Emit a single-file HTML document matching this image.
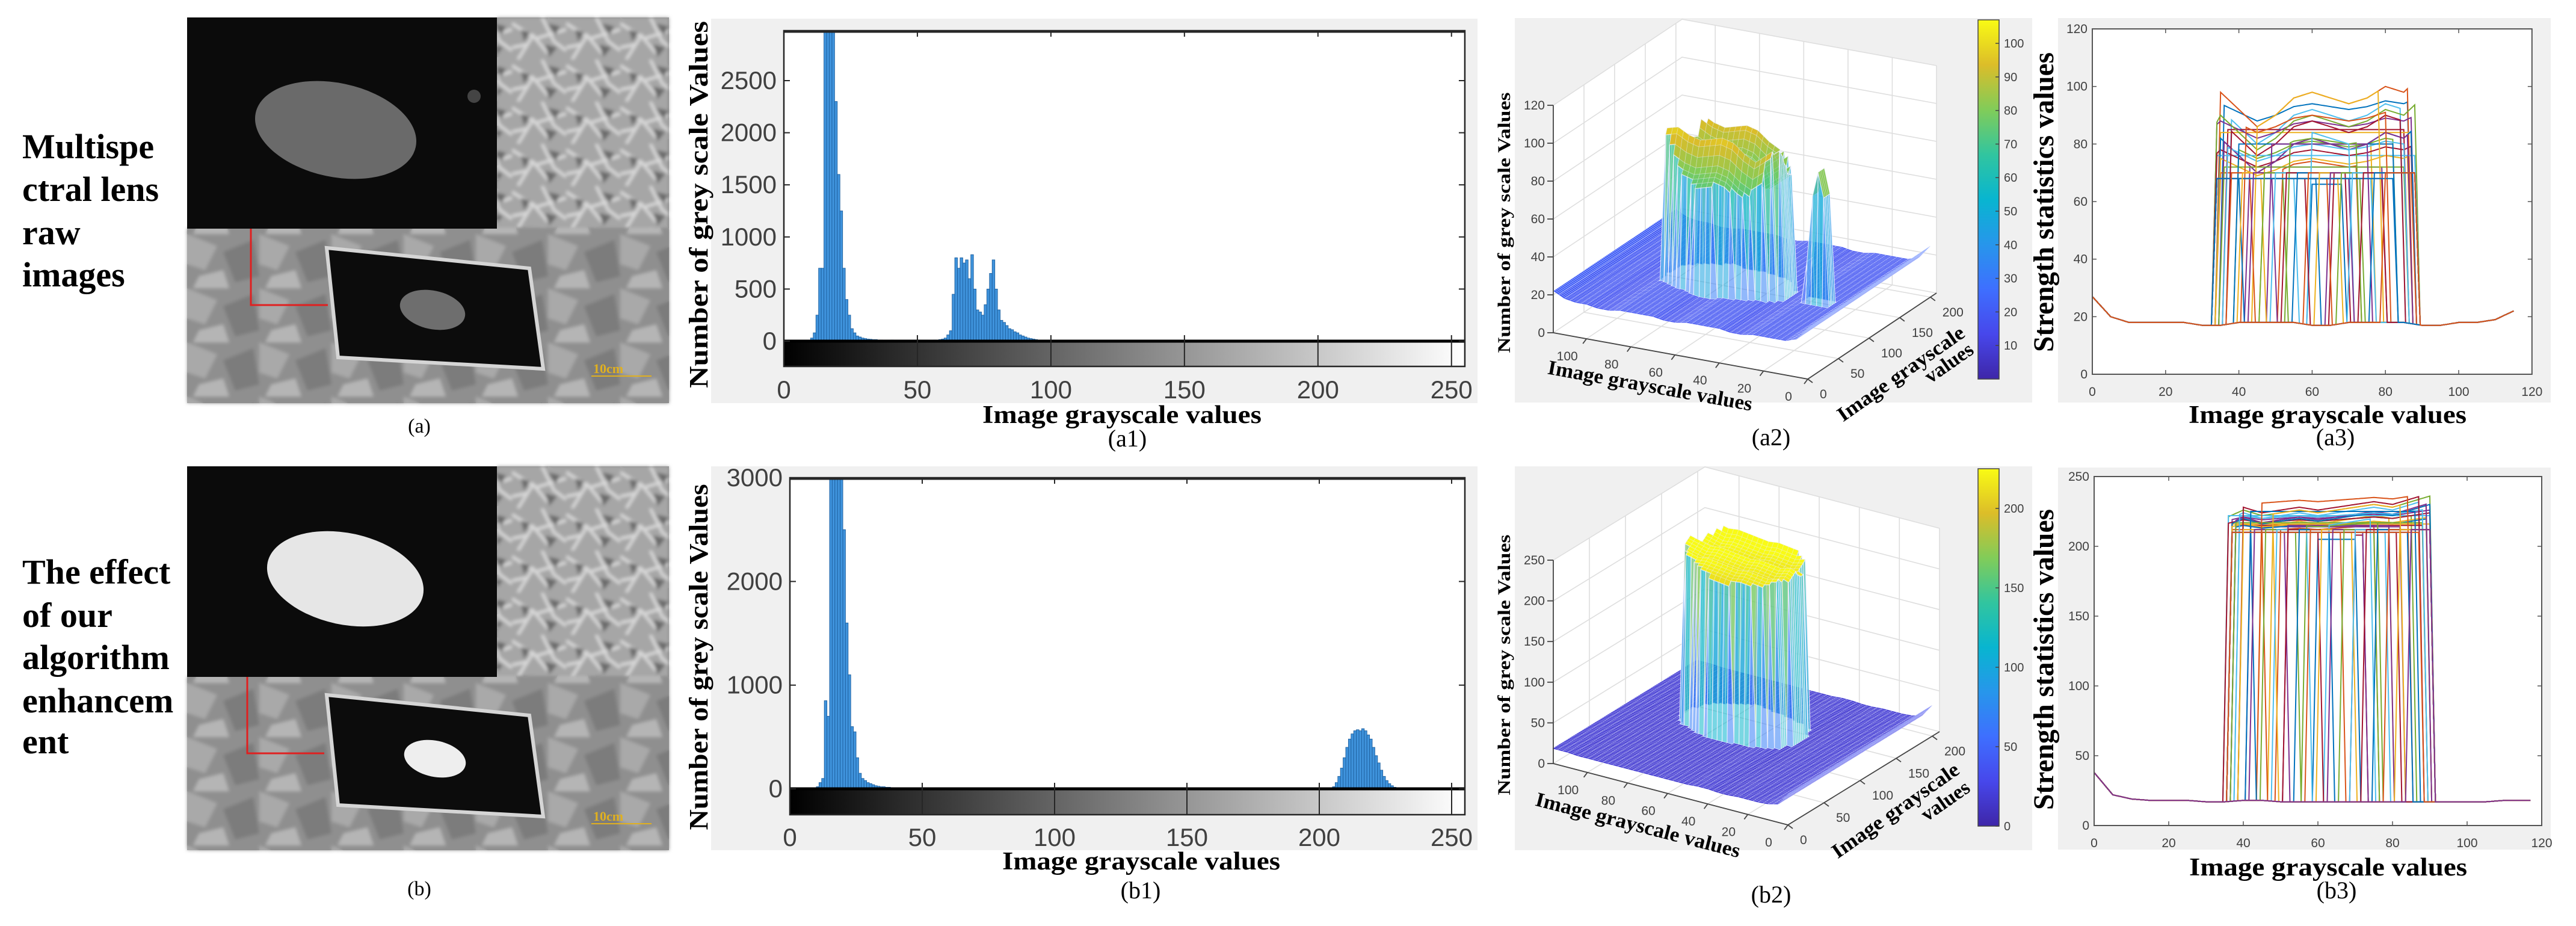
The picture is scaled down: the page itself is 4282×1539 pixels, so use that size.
<!DOCTYPE html>
<html><head><meta charset="utf-8"><title>Figure</title>
<style>
html,body{margin:0;padding:0;background:#fff;}
svg{display:block;}
.ser{font-family:"Liberation Serif",serif;}
.san{font-family:"Liberation Sans",sans-serif;}
</style></head>
<body>
<svg id="fig" xmlns="http://www.w3.org/2000/svg" width="4282" height="1539" viewBox="0 0 4282 1539">
<defs>
<linearGradient id="gray" x1="0" x2="1" y1="0" y2="0"><stop offset="0" stop-color="#000"/><stop offset="1" stop-color="#fff"/></linearGradient>
<linearGradient id="parula" x1="0" x2="0" y1="1" y2="0">
<stop offset="0" stop-color="#3e26a8"/><stop offset="0.125" stop-color="#4747eb"/><stop offset="0.25" stop-color="#3e6fff"/><stop offset="0.375" stop-color="#2796eb"/><stop offset="0.5" stop-color="#08b5d0"/><stop offset="0.625" stop-color="#31c59f"/><stop offset="0.75" stop-color="#81cc59"/><stop offset="0.875" stop-color="#dcbd29"/><stop offset="1" stop-color="#f9fb14"/>
</linearGradient>
<filter id="blur6"><feGaussianBlur stdDeviation="6"/></filter>
<filter id="blur3"><feGaussianBlur stdDeviation="3"/></filter>
<pattern id="twigs" width="90" height="70" patternUnits="userSpaceOnUse">
<rect width="90" height="70" fill="#a6a6a6"/>
<path d="M0 10 L40 35 L90 20 M10 70 L35 30 L60 60 M50 0 L70 40 L90 55 M0 50 L25 45" stroke="#d8d8d8" stroke-width="5" fill="none"/>
<path d="M15 20 L30 25 L20 40 Z M60 10 L80 15 L72 30 Z M55 45 L75 50 L62 66 Z" fill="#6a6a6a"/>
</pattern>
<pattern id="rock" width="120" height="90" patternUnits="userSpaceOnUse">
<rect width="120" height="90" fill="#8f8f8f"/>
<path d="M0 0 L50 20 L30 60 L0 50 Z" fill="#a9a9a9"/>
<path d="M60 30 L110 10 L120 70 L80 80 Z" fill="#7b7b7b"/>
<path d="M20 70 L60 60 L70 90 L10 90 Z" fill="#b5b5b5"/>
</pattern>
</defs>

<!-- Row labels -->
<g class="ser" font-weight="bold" font-size="58" fill="#000">
<text x="37" y="263">Multispe</text><text x="37" y="334">ctral lens</text><text x="37" y="406">raw</text><text x="37" y="476">images</text>
</g>
<g class="ser" font-weight="bold" font-size="58" fill="#000">
<text x="37" y="970">The effect</text><text x="37" y="1042">of our</text><text x="37" y="1112">algorithm</text><text x="37" y="1184">enhancem</text><text x="37" y="1252">ent</text>
</g>

<!-- Photo a -->
<g transform="translate(311,29)">
<rect width="801" height="641" fill="url(#rock)"/>
<rect x="515" y="0" width="286" height="351" fill="url(#twigs)" filter="url(#blur3)"/>
<rect x="0" y="351" width="801" height="290" fill="url(#rock)" filter="url(#blur3)"/>
<polygon points="232,383 569,417 592,584 251,565" fill="#0c0c0c" stroke="#d5d5d5" stroke-width="6"/>
<ellipse cx="408" cy="486" rx="55" ry="32" fill="#6e6e6e" transform="rotate(12 408 486)"/>
<rect x="0" y="0" width="515" height="351" fill="#0b0b0b"/>
<ellipse cx="247" cy="187" rx="136" ry="78" fill="#6a6a6a" transform="rotate(12 247 187)"/>
<circle cx="477" cy="131" r="11" fill="#444"/>
<path d="M106 351 L106 478 L234 478" fill="none" stroke="#e02020" stroke-width="3"/>
<text x="675" y="591" class="ser" font-weight="bold" font-size="22" fill="#e0b020">10cm</text>
<line x1="672" y1="596" x2="772" y2="596" stroke="#e0b020" stroke-width="2"/>
</g>
<text x="697" y="719" class="ser" font-size="34" text-anchor="middle">(a)</text>

<!-- Photo b -->
<g transform="translate(311,775)">
<rect width="801" height="638" fill="url(#rock)"/>
<rect x="515" y="0" width="286" height="350" fill="url(#twigs)" filter="url(#blur3)"/>
<rect x="0" y="350" width="801" height="288" fill="url(#rock)" filter="url(#blur3)"/>
<polygon points="232,380 569,414 592,582 251,563" fill="#0c0c0c" stroke="#d5d5d5" stroke-width="6"/>
<ellipse cx="412" cy="486" rx="52" ry="30" fill="#eeeeee" transform="rotate(12 412 486)"/>
<rect x="0" y="0" width="515" height="350" fill="#0b0b0b"/>
<ellipse cx="263" cy="187" rx="132" ry="76" fill="#e6e6e6" transform="rotate(12 263 187)"/>
<path d="M100 350 L100 477 L228 477" fill="none" stroke="#e02020" stroke-width="3"/>
<text x="675" y="589" class="ser" font-weight="bold" font-size="22" fill="#e0b020">10cm</text>
<line x1="672" y1="594" x2="772" y2="594" stroke="#e0b020" stroke-width="2"/>
</g>
<text x="697" y="1488" class="ser" font-size="34" text-anchor="middle">(b)</text>

<!-- Panel backgrounds -->
<rect x="1182" y="31" width="1274" height="639" fill="#f0f0f0"/>
<rect x="1182" y="775" width="1274" height="638" fill="#f0f0f0"/>
<rect x="2518" y="30" width="860" height="639" fill="#f0f0f0"/>
<rect x="2518" y="775" width="860" height="638" fill="#f0f0f0"/>
<rect x="3421" y="30" width="819" height="639" fill="#f0f0f0"/>
<rect x="3421" y="777" width="819" height="635" fill="#f0f0f0"/>

<g id="a1"></g>
<g id="b1"></g>
<g id="a2"></g>
<g id="b2"></g>
<g id="a3"></g>
<g id="b3"></g>

<!-- Titles -->
<g class="ser" font-weight="bold" fill="#000">
<text transform="translate(1176,340) rotate(-90)" font-size="44" text-anchor="middle" textLength="610" lengthAdjust="spacingAndGlyphs">Number of grey scale Values</text>
<text x="1865" y="703" font-size="42" text-anchor="middle" textLength="464" lengthAdjust="spacingAndGlyphs">Image grayscale values</text>
<text transform="translate(1176,1092) rotate(-90)" font-size="44" text-anchor="middle" textLength="575" lengthAdjust="spacingAndGlyphs">Number of grey scale Values</text>
<text x="1897" y="1445" font-size="42" text-anchor="middle" textLength="462" lengthAdjust="spacingAndGlyphs">Image grayscale values</text>

<text transform="translate(2510,370) rotate(-90)" font-size="30" text-anchor="middle" textLength="433" lengthAdjust="spacingAndGlyphs">Number of grey scale Values</text>
<text transform="translate(2741,652) rotate(10.3)" font-size="34" text-anchor="middle" textLength="345" lengthAdjust="spacingAndGlyphs">Image grayscale values</text>
<text transform="translate(3166,630) rotate(-35)" font-size="34" text-anchor="middle" textLength="250" lengthAdjust="spacingAndGlyphs">Image grayscale</text>
<text transform="translate(3246,612) rotate(-35)" font-size="34" text-anchor="middle">values</text>

<text transform="translate(2510,1105) rotate(-90)" font-size="30" text-anchor="middle" textLength="433" lengthAdjust="spacingAndGlyphs">Number of grey scale Values</text>
<text transform="translate(2720,1382) rotate(14.4)" font-size="34" text-anchor="middle" textLength="350" lengthAdjust="spacingAndGlyphs">Image grayscale values</text>
<text transform="translate(3157,1356) rotate(-35)" font-size="34" text-anchor="middle" textLength="250" lengthAdjust="spacingAndGlyphs">Image grayscale</text>
<text transform="translate(3240,1340) rotate(-35)" font-size="34" text-anchor="middle">values</text>

<text transform="translate(3413,336) rotate(-90)" font-size="48" text-anchor="middle" textLength="498" lengthAdjust="spacingAndGlyphs">Strength statistics values</text>
<text x="3869" y="703" font-size="42" text-anchor="middle" textLength="462" lengthAdjust="spacingAndGlyphs">Image grayscale values</text>
<text transform="translate(3413,1096) rotate(-90)" font-size="48" text-anchor="middle" textLength="500" lengthAdjust="spacingAndGlyphs">Strength statistics values</text>
<text x="3870" y="1455" font-size="42" text-anchor="middle" textLength="462" lengthAdjust="spacingAndGlyphs">Image grayscale values</text>
</g>
<g class="ser" font-size="40" text-anchor="middle" fill="#000">
<text x="1874" y="742">(a1)</text>
<text x="1896" y="1493">(b1)</text>
<text x="2944" y="740">(a2)</text>
<text x="2944" y="1500">(b2)</text>
<text x="3882" y="740">(a3)</text>
<text x="3884" y="1493">(b3)</text>
</g>
</svg>

<script>
// ---------- DATA ----------
const histAStart = 8;
const histA = [0,0,30,80,250,700,700,3200,3300,3250,3100,2300,1600,1250,700,400,250,120,80,50,40,30,25,
 20,18,15,15,12,12,10,10,10,12,10,10,8,8,10,10,8,8,10,12,10,8,8,10,10,12,10,15,20,30,60,
 100,450,800,700,800,750,780,600,830,500,300,280,250,350,500,650,780,500,300,200,180,150,120,110,90,80,60,50,40,30,25,20,15,10];
const histATicksY = [0,500,1000,1500,2000,2500];
const histB1Start = 10;
const histB1 = [20,60,100,850,700,3200,3300,3300,3250,3100,2500,1600,1100,600,550,300,150,100,80,60,50,40,30,25,20,20,15,15,12,10,10];
const histB2Start = 204;
const histB2 = [10,20,60,120,200,300,400,480,530,560,570,560,580,560,520,480,400,320,250,180,120,80,50,30,15];
const histBTicksY = [0,1000,2000,3000];
const histTicksX = [0,50,100,150,200,250];

// Row profiles (a)
const baseA = [27,20,18,18,18,18,17,17,18,18,18,18,17,17,18,18,18,18,17,17,18,18,19,22];
const riseA = [60,52,47,43,40,38,37,36,35,35,34,34,34,34,35,35,35,36,36,37,38,40,42,45,49,54,60,66];
const fallA = [68,72,76,79,82,84,85,86,86,87,87,88,88,87,87,87,86,86,85,85,84,82,80,78,75,72,70,69];
const topA  = [66,68,70,72,75,80,85,88,86,84,82,78,76,72,70,70,69,70,72,74,76,80,84,86,80,76,72,70];
const waveA = [0,0,0,0,0,0,0,12,6,0,4,10,12,10,8,10,14,12,18,0,0,0,0,0];
const innerFallA = [40,43,46,49,52,55,58,61,64,67,70,73,76,79,82];
const innerRiseA = [38,41,44,47,50,53,56,59,62,65,68,71,74,77,80];
const dotColsA = [14,16,18,20,22];
const dotHeightA = [40,75,88,75,40];
const dotRowsA = [80,92];
// Row profiles (b)
const baseB = [38,22,19,18,18,18,17,17,18,18,17,17,17,17,17,17,17,17,17,17,17,17,18,18];
const riseB = [60,50,45,42,40,39,38,38,37,37,37,36,36,36,37,37,37,38,38,39,40,42,45,48,52,57,63,70];
const fallB = [70,75,79,82,85,87,88,89,89,90,90,90,90,90,90,90,89,89,88,88,87,86,84,82,79,76,74,72];
const topB  = [205,210,212,214,216,218,215,212,214,216,218,220,222,216,214,212,213,215,217,219,222,225,230,220,215,212,210,208];
const waveB = [0,0,0,0,0,0,0,0,6,2,4,6,4,6,8,10,8,12,16,0,0,0,0,0];
const innerFallB = [42,45,48,51,54,57,60,63,66,69,72,75,78,81,84,87];
const innerRiseB = [40,43,46,49,52,55,58,61,64,67,70,73,76,79,82,85];

const zTicksA = [0,20,40,60,80,100,120];
const zTicksB = [0,50,100,150,200,250];
const xTicks3D = [0,20,40,60,80,100];
const yTicks3D = [0,50,100,150,200];
const cbTicksA = [10,20,30,40,50,60,70,80,90,100];
const cbTicksB = [0,50,100,150,200];
const lineTicksX = [0,20,40,60,80,100,120];
const lineTicksYA = [0,20,40,60,80,100,120];
const lineTicksYB = [0,50,100,150,200,250];

// ---------- HELPERS ----------
const NS = 'http://www.w3.org/2000/svg';
function mk(tag, attrs, parent){ const e = document.createElementNS(NS, tag); for (const k in attrs) e.setAttribute(k, attrs[k]); parent.appendChild(e); return e; }
const PAR = [[0.2422,0.1504,0.6603],[0.2803,0.2782,0.9221],[0.2440,0.4358,0.9988],[0.1540,0.5902,0.9218],[0.0297,0.7082,0.8163],[0.1938,0.7758,0.6251],[0.5044,0.7993,0.3480],[0.8634,0.7406,0.1596],[0.9769,0.9839,0.0805]];
function parula(t){ t = Math.max(0, Math.min(1, t)); const f = t*8, i = Math.min(7, Math.floor(f)), r = f - i; const a = PAR[i], b = PAR[i+1];
  return 'rgb(' + [0,1,2].map(k => Math.round(255*(a[k]+(b[k]-a[k])*r))).join(',') + ')'; }
function interp(arr, step, x){ const f = x/step; const i = Math.max(0, Math.min(arr.length-2, Math.floor(f))); const r = Math.max(0, Math.min(1, f - i)); return arr[i] + (arr[i+1]-arr[i])*r; }

// ---------- HISTOGRAMS ----------
function drawHist(id, cfg, groups, ticksY){
  const g = document.getElementById(id);
  const X = v => cfg.x0 + v*cfg.kx, Y = v => cfg.y0 - v*cfg.ky;
  let el = mk('rect', {x: cfg.x0, y: cfg.top, width: X(255)-cfg.x0, height: cfg.cbBottom-cfg.top, fill: '#fff'}, g);
  
  
  groups.forEach(gr => gr.vals.forEach((v, i) => {
    const b = gr.start + i; if (v <= 0) return;
    const top = Math.max(cfg.top, Y(v));
    const r = mk('rect', {x: X(b), y: top, width: cfg.kx, height: cfg.y0-top, fill: '#3f93dc', stroke: '#1d5f9e', 'stroke-width': 0.9}, g);
    
    
  }));
  el = mk('rect', {x: cfg.x0, y: cfg.y0, width: X(255)-cfg.x0, height: cfg.cbBottom-cfg.y0, fill: 'url(#gray)'}, g);
  
  
  el = mk('line', {x1: cfg.x0, x2: X(255), y1: cfg.y0, y2: cfg.y0, stroke: '#000', 'stroke-width': 5}, g);
  
  
  el = mk('rect', {x: cfg.x0, y: cfg.top, width: X(255)-cfg.x0, height: cfg.cbBottom-cfg.top, fill: 'none', stroke: '#262626', 'stroke-width': 2.5}, g);
  
  
  mk('line', {x1: cfg.x0, x2: X(255), y1: cfg.top+2, y2: cfg.top+2, stroke: '#262626', 'stroke-width': 3}, g);
  ticksY.forEach(t => {
    const y = Y(t);
    mk('line', {x1: cfg.x0, x2: cfg.x0+10, y1: y, y2: y, stroke: '#262626', 'stroke-width': 2}, g);
    mk('line', {x1: X(255)-10, x2: X(255), y1: y, y2: y, stroke: '#262626', 'stroke-width': 2}, g);
    const tx = mk('text', {x: cfg.x0-12, y: y+14, 'text-anchor': 'end', 'font-size': 42, fill: '#404040', class: 'san'}, g);
    tx.textContent = t;
    
    
  });
  histTicksX.forEach(t => {
    const x = X(t);
    mk('line', {x1: x, x2: x, y1: cfg.top, y2: cfg.top+10, stroke: '#262626', 'stroke-width': 2}, g);
    mk('line', {x1: x, x2: x, y1: cfg.y0-10, y2: cfg.cbBottom, stroke: '#262626', 'stroke-width': 2}, g);
    const tx = mk('text', {x: x, y: cfg.lblY, 'text-anchor': 'middle', 'font-size': 42, fill: '#404040', class: 'san'}, g);
    tx.textContent = t;
    
    
  });
}
drawHist('a1', {x0: 1303, kx: 4.439, y0: 567, ky: 0.1732, top: 51, cbBottom: 609, lblY: 662}, [{start: histAStart, vals: histA}], histATicksY);
drawHist('b1', {x0: 1313, kx: 4.40, y0: 1311, ky: 0.1723, top: 794, cbBottom: 1354, lblY: 1406}, [{start: histB1Start, vals: histB1}, {start: histB2Start, vals: histB2}], histBTicksY);

// ---------- 3D SURFACES ----------
function zSurf(c, xd, yd){
  let z = interp(c.base, 5, xd);
  const idx = Math.round((yd - c.rowStart)/2.5);
  if (idx >= 0 && idx < c.rise.length && xd >= c.rise[idx] && xd <= c.fall[idx]) z = c.top[idx] + interp(c.wave, 5, xd)*0.8;
  if (c.dotCols && yd >= c.dotRows[0] && yd <= c.dotRows[1]) {
    for (let k = 0; k < c.dotCols.length; k++) if (Math.abs(xd - c.dotCols[k]) <= 1.25) z = Math.max(z, c.dotH[k]);
  }
  return z;
}
function draw3D(id, c){
  const g = document.getElementById(id);
  const L = [c.left[0]-c.front[0], c.left[1]-c.front[1]], R = [c.right[0]-c.front[0], c.right[1]-c.front[1]];
  const P = (xd, yd, z) => [c.front[0] + xd/c.xmax*L[0] + yd/c.ymax*R[0], c.front[1] + xd/c.xmax*L[1] + yd/c.ymax*R[1] - z*c.zs];
  const pts = a => a.map(p => p[0].toFixed(1)+','+p[1].toFixed(1)).join(' ');
  const lb = P(c.xmax,0,0), lt = P(c.xmax,0,c.zmax), bt = P(c.xmax,c.ymax,c.zmax), rt = P(0,c.ymax,c.zmax), rb = P(0,c.ymax,0), fr = P(0,0,0);
  let el = mk('polygon', {points: pts([lb, lt, bt, rt, rb, fr]), fill: '#fff'}, g);
  
  
  const gs = {stroke: '#dedede', 'stroke-width': 1.6, fill: 'none'};
  c.zTicks.forEach(t => { const e = mk('polyline', Object.assign({points: pts([P(c.xmax,0,t), P(c.xmax,c.ymax,t), P(0,c.ymax,t)])}, gs), g);   });
  xTicks3D.forEach(t => { const e = mk('polyline', Object.assign({points: pts([P(t,0,0), P(t,c.ymax,0), P(t,c.ymax,c.zmax)])}, gs), g);   });
  yTicks3D.forEach(t => { const e = mk('polyline', Object.assign({points: pts([P(0,t,0), P(c.xmax,t,0), P(c.xmax,t,c.zmax)])}, gs), g);   });
  const quads = [];
  const dx = 2.5, dy = 2.5;
  for (let xd = 0; xd < c.dataX; xd += dx) for (let yd = 0; yd < 200; yd += dy) {
    const z1 = zSurf(c, xd, yd), z2 = zSurf(c, xd+dx, yd), z3 = zSurf(c, xd+dx, yd+dy), z4 = zSurf(c, xd, yd+dy);
    const depth = P(xd+dx/2, yd+dy/2, 0)[1];
    const zmx = Math.max(z1,z2,z3,z4), zmn = Math.min(z1,z2,z3,z4);
    quads.push({depth, p: [P(xd,yd,z1), P(xd+dx,yd,z2), P(xd+dx,yd+dy,z3), P(xd,yd+dy,z4)], z: (z1+z2+z3+z4)/4, side: (zmx - zmn) > 20});
  }
  quads.sort((a, b) => a.depth - b.depth);
  quads.forEach(q => {
    const col = parula((q.z - c.cmin)/(c.cmax - c.cmin));
    const e = mk('polygon', {points: pts(q.p), fill: col, 'fill-opacity': q.side ? 0.55 : 1, stroke: q.side ? 'rgba(240,240,255,0.8)' : 'rgba(235,240,255,0.4)', 'stroke-width': q.side ? 1.2 : 0.8}, g);
    
    
  });
  const ax = {stroke: '#444', 'stroke-width': 1.8, fill: 'none'};
  el = mk('polyline', Object.assign({points: pts([lt, lb, fr, rb])}, ax), g);
  
  
  c.zTicks.forEach(t => { const p = P(c.xmax,0,t);
    mk('line', {x1: p[0]-10, x2: p[0], y1: p[1], y2: p[1], stroke: '#444', 'stroke-width': 1.8}, g);
    const tx = mk('text', {x: p[0]-14, y: p[1]+7, 'text-anchor': 'end', 'font-size': 21, fill: '#404040', class: 'san'}, g);
    tx.textContent = t;
    
     });
  xTicks3D.forEach(t => { const p = P(t,0,0);
    mk('line', {x1: p[0], x2: p[0]-6, y1: p[1], y2: p[1]+8, stroke: '#444', 'stroke-width': 1.8}, g);
    const tx = mk('text', {x: p[0]-32, y: p[1]+36, 'text-anchor': 'middle', 'font-size': 21, fill: '#404040', class: 'san'}, g);
    tx.textContent = t;
    
     });
  yTicks3D.forEach(t => { const p = P(0,t,0);
    mk('line', {x1: p[0], x2: p[0]+8, y1: p[1], y2: p[1]+6, stroke: '#444', 'stroke-width': 1.8}, g);
    const tx = mk('text', {x: p[0]+20, y: p[1]+32, 'text-anchor': 'start', 'font-size': 21, fill: '#404040', class: 'san'}, g);
    tx.textContent = t;
    
     });
  const cb = c.cb;
  el = mk('rect', {x: cb.x, y: cb.y0, width: cb.w, height: cb.y1-cb.y0, fill: 'url(#parula)', stroke: '#444', 'stroke-width': 1.5}, g);
  
  
  c.cbTicks.forEach(t => { const y = cb.y1 - (t - c.cmin)/(c.cmax - c.cmin)*(cb.y1-cb.y0);
    mk('line', {x1: cb.x+cb.w-6, x2: cb.x+cb.w, y1: y, y2: y, stroke: '#444', 'stroke-width': 1.5}, g);
    const tx = mk('text', {x: cb.x+cb.w+8, y: y+7, 'font-size': 20, fill: '#404040', class: 'san'}, g);
    tx.textContent = t;
    
     });
}
draw3D('a2', {front: [3005,630], left: [2582,553], right: [3219,487], xmax: 115, ymax: 210, zs: 3.15, zmax: 120, dataX: 115,
  base: baseA, rise: riseA, fall: fallA, top: topA, wave: waveA, rowStart: 60, dotCols: dotColsA, dotH: dotHeightA, dotRows: dotRowsA,
  zTicks: zTicksA, cmin: 0, cmax: 107, cbTicks: cbTicksA, cb: {x: 3288, w: 35, y0: 33, y1: 630}});
draw3D('b2', {front: [2972,1371], left: [2582,1269], right: [3224,1216], xmax: 117, ymax: 210, zs: 1.352, zmax: 250, dataX: 117,
  base: baseB, rise: riseB, fall: fallB, top: topB, wave: waveB, rowStart: 85,
  zTicks: zTicksB, cmin: 0, cmax: 225, cbTicks: cbTicksB, cb: {x: 3288, w: 35, y0: 779, y1: 1373}});

// ---------- LINE PLOTS ----------
const COLORS = ['#0072BD','#D95319','#EDB120','#7E2F8E','#77AC30','#4DBEEE','#A2142F'];
function drawLines(id, c){
  const g = document.getElementById(id);
  const X = v => c.x0 + v*c.kx, Y = v => c.y0 - v*c.ky;
  let el = mk('rect', {x: c.x0, y: Y(c.ymax), width: X(120)-c.x0, height: c.y0-Y(c.ymax), fill: '#fff'}, g);
  
  
  const lines = [];
  c.rise.forEach((r, i) => lines.push([r, c.fall[i], c.top[i], 1]));
  c.innerFall.forEach(f => lines.push([c.rise[10], f, c.innerTop, 0]));
  c.innerRise.forEach(r => lines.push([r, c.fall[12], c.innerTop + 2, 0]));
  lines.forEach((ln, i) => {
    const [r, f, top, wav] = ln, arr = [];
    for (let x = 0; x <= c.xend; x += 0.5) {
      let v = interp(c.base, 5, x);
      const t = top + (wav ? interp(c.wave, 5, x) * ((i % 3) / 2) : 0);
      if (x >= r && x <= f) v = t;
      else if (x > r-1.5 && x < r) v = v + (t - v)*(x-(r-1.5))/1.5;
      else if (x > f && x < f+1.5) v = t + (v - t)*(x-f)/1.5;
      arr.push(X(x).toFixed(1)+','+Y(v).toFixed(1));
    }
    const pl = mk('polyline', {points: arr.join(' '), fill: 'none', stroke: COLORS[i % 7], 'stroke-width': 2}, g);
    
    
  });
  el = mk('rect', {x: c.x0, y: Y(c.ymax), width: X(120)-c.x0, height: c.y0-Y(c.ymax), fill: 'none', stroke: '#555', 'stroke-width': 2}, g);
  
  
  c.ticksY.forEach(t => { const y = Y(t);
    mk('line', {x1: c.x0, x2: c.x0+7, y1: y, y2: y, stroke: '#555', 'stroke-width': 1.5}, g);
    mk('line', {x1: X(120)-7, x2: X(120), y1: y, y2: y, stroke: '#555', 'stroke-width': 1.5}, g);
    const tx = mk('text', {x: c.x0-8, y: y+7, 'text-anchor': 'end', 'font-size': 21, fill: '#404040', class: 'san'}, g);
    tx.textContent = t;
    
     });
  lineTicksX.forEach(t => { const x = X(t);
    mk('line', {x1: x, x2: x, y1: c.y0, y2: c.y0-7, stroke: '#555', 'stroke-width': 1.5}, g);
    mk('line', {x1: x, x2: x, y1: Y(c.ymax), y2: Y(c.ymax)+7, stroke: '#555', 'stroke-width': 1.5}, g);
    const tx = mk('text', {x: x, y: c.y0+36, 'text-anchor': 'middle', 'font-size': 21, fill: '#404040', class: 'san'}, g);
    tx.textContent = t;
    
     });
}
drawLines('a3', {x0: 3478, kx: 6.09, y0: 622, ky: 4.783, ymax: 120, xend: 115, base: baseA, rise: riseA, fall: fallA, top: topA, wave: waveA,
  innerFall: innerFallA, innerRise: innerRiseA, innerTop: 68, ticksY: lineTicksYA});
drawLines('b3', {x0: 3481, kx: 6.2, y0: 1372, ky: 2.32, ymax: 250, xend: 117, base: baseB, rise: riseB, fall: fallB, top: topB, wave: waveB,
  innerFall: innerFallB, innerRise: innerRiseB, innerTop: 210, ticksY: lineTicksYB});
</script>
</body></html>
